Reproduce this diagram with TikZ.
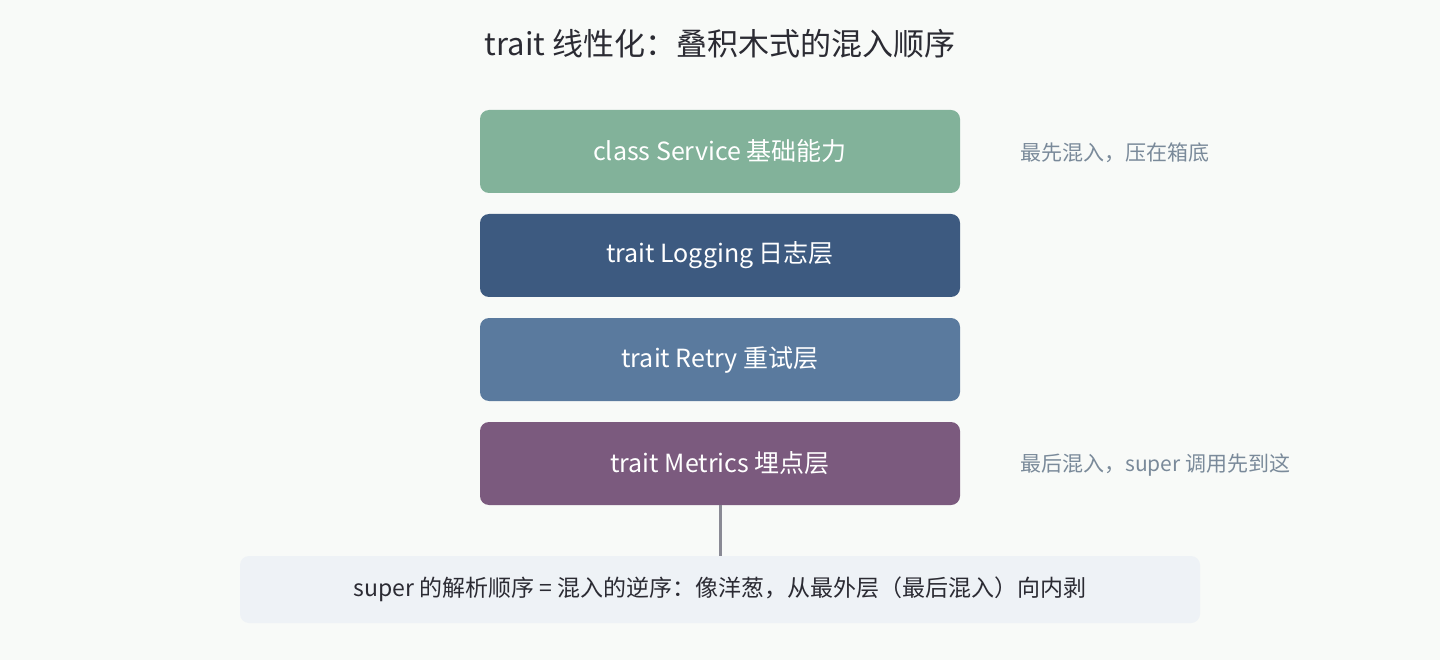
\documentclass[tikz,border=0pt]{standalone}
\usepackage{fontspec}
\setmainfont{Noto Sans CJK SC}
\definecolor{bg}{HTML}{F8FAF8}
\definecolor{cg}{HTML}{82B29A}
\definecolor{cdb}{HTML}{3D5A80}
\definecolor{cmb}{HTML}{5A7A9E}
\definecolor{cp}{HTML}{7B5A7E}
\definecolor{side}{HTML}{7A8A9A}
\definecolor{note}{HTML}{EEF2F6}
\definecolor{ink}{HTML}{2B2B33}
\definecolor{stem}{HTML}{8A8A95}
\begin{document}
\begin{tikzpicture}[x=1pt,y=-1pt,
 layer/.style={rounded corners=9pt,minimum width=480pt,minimum height=83pt,text=white,font=\fontsize{25}{30}\selectfont,inner sep=0pt},
 sidel/.style={anchor=west,text=side,font=\fontsize{21}{26}\selectfont,inner sep=0pt}]
\fill[bg] (0,0) rectangle (1440,660);
\useasboundingbox (0,0) rectangle (1440,660);
\node[text=ink,font=\fontsize{31}{36}\selectfont] (title) at (720,44) {trait 线性化：叠积木式的混入顺序};
\node[layer,fill=cg] (svc) at (720,151.5) {class Service 基础能力};
\node[layer,fill=cdb] (log) at (720,255.5) {trait Logging 日志层};
\node[layer,fill=cmb] (rty) at (720,359.5) {trait Retry 重试层};
\node[layer,fill=cp] (met) at (720,463.5) {trait Metrics 埋点层};
\node[sidel] (s1) at (1020,153) {最先混入，压在箱底};
\node[sidel] (s2) at (1020,465) {最后混入，super 调用先到这};
\node[rounded corners=9pt,fill=note,minimum width=960pt,minimum height=67pt,inner sep=0pt,text=ink,font=\fontsize{23}{28}\selectfont] (note) at (720,589.5) {super 的解析顺序 = 混入的逆序：像洋葱，从最外层（最后混入）向内剥};
\draw[stem,line width=3pt] (met.south) -- (note.north);
\end{tikzpicture}
\end{document}
